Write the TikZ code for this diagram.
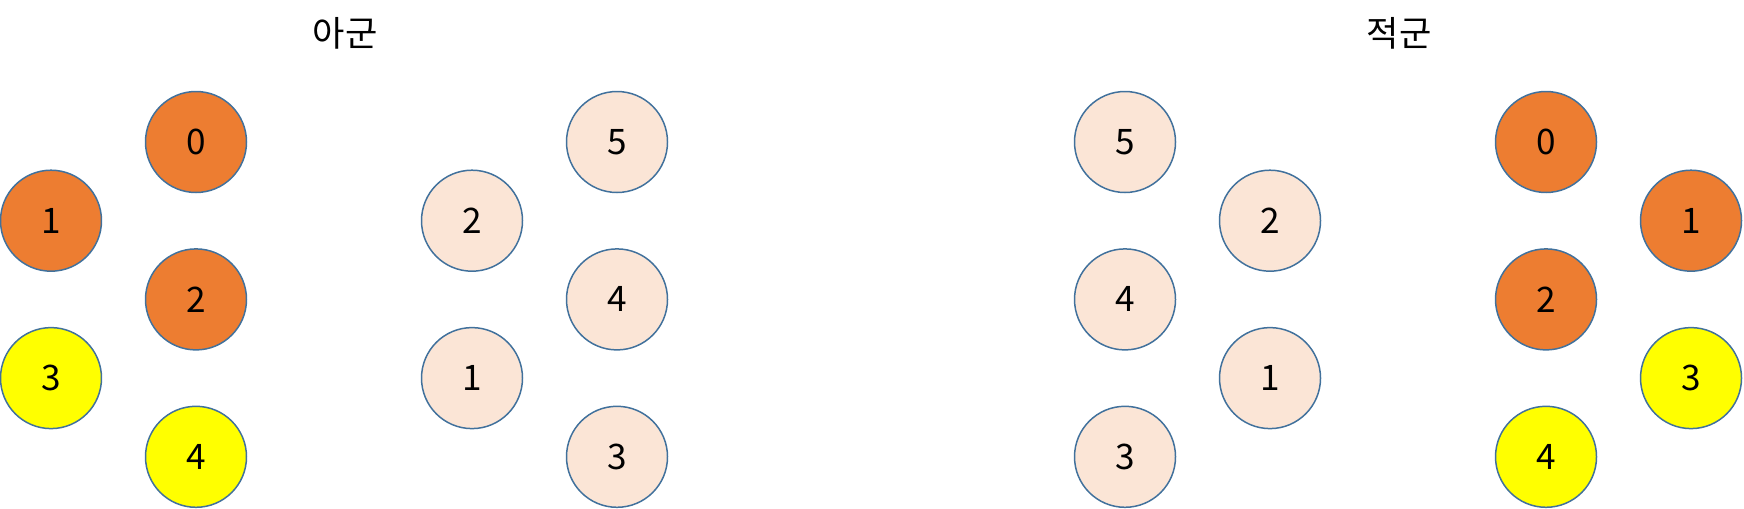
\documentclass[tikz,border=0pt]{standalone}
\usepackage{fontspec}
\setmainfont{Noto Sans CJK KR}
\usetikzlibrary{positioning}
\definecolor{unitorange}{HTML}{ED7D31}
\definecolor{unitpeach}{HTML}{FBE5D6}
\definecolor{unityellow}{HTML}{FFFF00}
\definecolor{unitedge}{HTML}{41719C}

\begin{document}
\begin{tikzpicture}[
                    on grid,
                    node distance=1.574cm and 2.9cm,
                    unit/.style={
                        circle,
                        draw=unitedge,
                        line width=0.85pt,
                        minimum size=2.02cm,
                        inner sep=0pt,
                        font=\fontsize{20}{24}\selectfont
                    },
                    alive/.style={unit, fill=unitorange},
                    hit/.style={unit, fill=unityellow},
                    idle/.style={unit, fill=unitpeach},
                    side/.style={font=\fontsize{20}{24}\selectfont}
                ]
                    \useasboundingbox (0,0) rectangle (34.88,-10.16);

                    % Titles
                    \node[side] (ours) at (6.9,-0.66) {아군};
                    \node[side] (foes) at (27.98,-0.66) {적군};

                    % Our side
                    \node[alive] (a0) at (3.92,-2.84) {0};
                    \node[alive] (a1) [below left=of a0] {1};
                    \node[alive] (a2) [below right=of a1] {2};
                    \node[hit] (a3) [below left=of a2] {3};
                    \node[hit] (a4) [below right=of a3] {4};

                    \node[idle] (b5) at (12.34,-2.84) {5};
                    \node[idle] (b2) [below left=of b5] {2};
                    \node[idle] (b4) [below right=of b2] {4};
                    \node[idle] (b1) [below left=of b4] {1};
                    \node[idle] (b3) [below right=of b1] {3};

                    % Enemy side
                    \node[idle] (c5) at (22.5,-2.84) {5};
                    \node[idle] (c2) [below right=of c5] {2};
                    \node[idle] (c4) [below left=of c2] {4};
                    \node[idle] (c1) [below right=of c4] {1};
                    \node[idle] (c3) [below left=of c1] {3};

                    \node[alive] (d0) at (30.92,-2.84) {0};
                    \node[alive] (d1) [below right=of d0] {1};
                    \node[alive] (d2) [below left=of d1] {2};
                    \node[hit] (d3) [below right=of d2] {3};
                    \node[hit] (d4) [below left=of d3] {4};
                \end{tikzpicture}
\end{document}
